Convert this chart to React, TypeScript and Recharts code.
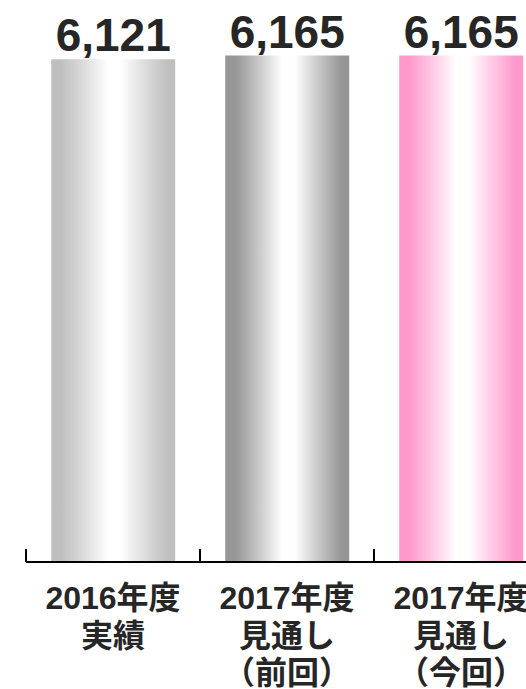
import React from 'react';
import { BarChart, Bar, XAxis, YAxis, Cell, LabelList } from 'recharts';

const categories = ['2016年度\n実績', '2017年度\n見通し\n（前回）', '2017年度\n見通し\n（今回）'];
const values = [6121, 6165, 6165];

const data = categories.map((c, i) => ({ name: c, value: values[i] }));

const barEdges = ['#bfbfbf', '#969696', '#ff99cc'];

const FONT = '"Liberation Sans", Arial, "Noto Sans CJK JP", sans-serif';
const TEXT = '#262626';

const mix = (hex: string, t: number) => {
  const n = parseInt(hex.slice(1), 16);
  const r = (n >> 16) & 255;
  const g = (n >> 8) & 255;
  const b = n & 255;
  const f = (c: number) => Math.round(c + (255 - c) * t);
  return `rgb(${f(r)},${f(g)},${f(b)})`;
};

const BottomTick = (props: any) => {
  const { x, y, payload } = props;
  const half = payload && typeof payload.offset === 'number' && payload.offset > 0 ? payload.offset : 87;
  const lines = String(payload.value).split('\n');
  const bx = x - half;
  return (
    <g>
      <line x1={bx} y1={y} x2={bx} y2={y - 13} stroke="#000" strokeWidth={2} />
      <text x={x} y={y} textAnchor="middle" fontFamily={FONT} fontWeight="bold" fontSize={32} fill={TEXT}>
        {lines.map((l, i) => (
          <tspan key={i} x={x} dy={i === 0 ? 47 : 37.5}>
            {l}
          </tspan>
        ))}
      </text>
    </g>
  );
};

export default function App() {
  return (
    <div style={{ position: 'absolute', left: 0, top: 0, width: 526, height: 689, overflow: 'hidden', background: '#fff' }}>
      <BarChart
        width={560}
        height={689}
        data={data}
        margin={{ top: 28, right: 12, bottom: 126, left: 26 }}
        barCategoryGap="14.5%"
      >
        <defs>
          {barEdges.map((c, i) => (
            <linearGradient key={i} id={`grad${i}`} x1="0" y1="0" x2="1" y2="0">
              <stop offset="0" stopColor={c} />
              <stop offset="0.08" stopColor={c} />
              <stop offset="0.28" stopColor={mix(c, 0.5)} />
              <stop offset="0.46" stopColor="#ffffff" />
              <stop offset="0.56" stopColor="#ffffff" />
              <stop offset="0.74" stopColor={mix(c, 0.5)} />
              <stop offset="0.94" stopColor={c} />
              <stop offset="1" stopColor={c} />
            </linearGradient>
          ))}
        </defs>
        <XAxis
          dataKey="name"
          interval={0}
          height={1}
          tickLine={false}
          tickSize={0}
          tickMargin={0}
          axisLine={{ stroke: '#000', strokeWidth: 2 }}
          tick={<BottomTick />}
        />
        <YAxis hide domain={[0, 6500]} />
        <Bar dataKey="value" isAnimationActive={false}>
          {data.map((d, i) => (
            <Cell key={i} fill={`url(#grad${i})`} />
          ))}
          <LabelList
            dataKey="value"
            position="top"
            offset={8}
            formatter={(v: any) => Number(v).toLocaleString('en-US')}
            style={{ fontFamily: FONT, fontWeight: 'bold', fontSize: 46, fill: TEXT }}
          />
        </Bar>
      </BarChart>
    </div>
  );
}
